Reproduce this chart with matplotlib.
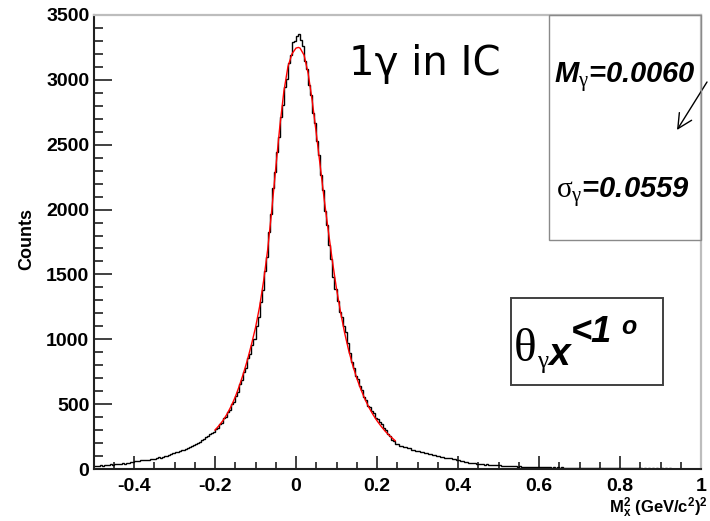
import numpy as np
import matplotlib
matplotlib.use("Agg")
import matplotlib.pyplot as plt
from matplotlib.ticker import MultipleLocator, FuncFormatter
from matplotlib.patches import Rectangle

plt.rcParams["mathtext.fontset"] = "custom"
plt.rcParams["mathtext.rm"] = "Liberation Serif"
plt.rcParams["mathtext.it"] = "Liberation Sans:italic:bold"
plt.rcParams["mathtext.bf"] = "Liberation Sans:bold"

# Missing-mass-squared histogram: 300 bins from -0.5 to 1.0 (GeV/c^2)^2
bin_lo, bin_hi = -0.5, 1.0
counts = [
    21, 25, 22, 28, 26, 29, 31, 30, 35, 32, 37, 36, 40, 38, 44, 42, 47, 45, 51, 55,
    58, 63, 61, 66, 69, 67, 73, 71, 77, 80, 78, 85, 89, 87, 94, 99, 103, 108, 116, 121,
    131, 128, 140, 146, 144, 157, 162, 170, 176, 186, 192, 203, 209, 222, 230, 245, 252, 268, 276, 288,
    306, 318, 347, 358, 390, 401, 437, 455, 498, 520, 566, 594, 652, 684, 748, 782, 852, 890, 958, 1002,
    1102, 1171, 1291, 1378, 1524, 1638, 1826, 1965, 2168, 2287, 2446, 2556, 2717, 2806, 2948, 3006, 3128, 3189, 3290, 3302,
    3338, 3351, 3309, 3262, 3148, 3082, 2958, 2884, 2745, 2664, 2526, 2423, 2268, 2152, 1986, 1882, 1728, 1622, 1478, 1391,
    1296, 1208, 1168, 1102, 1058, 968, 898, 822, 782, 718, 697, 638, 606, 553, 531, 488, 476, 444, 431, 395,
    388, 361, 349, 316, 299, 266, 252, 224, 214, 195, 193, 180, 181, 170, 171, 159, 160, 149, 150, 139,
    141, 132, 131, 123, 121, 113, 113, 106, 105, 98, 99, 93, 93, 86, 87, 81, 82, 74, 75, 67,
    66, 58, 60, 52, 55, 47, 49, 43, 45, 39, 42, 36, 38, 33, 35, 30, 33, 28, 30, 27,
    28, 25, 26, 23, 24, 22, 23, 20, 21, 19, 20, 17, 19, 16, 18, 15, 17, 14, 16, 14,
    13, 15, 12, 14, 12, 13, 11, 13, 11, 12, 10, 12, 10, 11, 9, 11, 9, 10, 9, 10,
    8, 10, 8, 9, 7, 9, 7, 8, 7, 8, 6, 8, 6, 7, 6, 7, 5, 7, 5, 6,
    6, 5, 6, 4, 6, 4, 5, 4, 5, 4, 5, 3, 5, 3, 4, 3, 4, 3, 4, 3,
    4, 3, 4, 2, 4, 2, 3, 2, 3, 2, 3, 2, 3, 2, 3, 2, 3, 2, 3, 2,
]

# Fitted peak curve
fit_x = [-0.20, -0.19, -0.18, -0.17, -0.16, -0.15, -0.14, -0.13, -0.12, -0.11,
         -0.10, -0.09, -0.08, -0.07, -0.06, -0.05, -0.04, -0.03, -0.02, -0.01,
         0.00, 0.006, 0.01, 0.02, 0.03, 0.04, 0.05, 0.06, 0.07, 0.08,
         0.09, 0.10, 0.11, 0.12, 0.13, 0.14, 0.15, 0.16, 0.17, 0.18,
         0.19, 0.20, 0.21, 0.22, 0.23, 0.24, 0.245]
fit_y = [300, 335, 375, 425, 485, 555, 640, 735, 840, 960,
         1090, 1250, 1450, 1690, 1990, 2320, 2640, 2910, 3100, 3200,
         3245, 3250, 3245, 3190, 3050, 2840, 2590, 2330, 2070, 1830,
         1600, 1390, 1210, 1050, 915, 800, 700, 615, 540, 475,
         420, 372, 330, 292, 260, 232, 218]

mass_label = r"$\mathit{M}_{\mathrm{\gamma}}$=0.0060"
sigma_label = r"$\mathrm{\sigma}_{\mathrm{\gamma}}$=0.0559"

W, H = 710, 521
fig = plt.figure(figsize=(W / 100, H / 100), dpi=100)
ax = fig.add_axes([93.5 / W, 1 - 469 / H, 607.5 / W, 454 / H])

edges = np.linspace(bin_lo, bin_hi, len(counts) + 1)
ax.stairs(counts, edges, color="black", lw=1.0, baseline=None, zorder=2)
ax.plot(fit_x, fit_y, color="red", lw=1.0, zorder=3)

ax.set_xlim(bin_lo, bin_hi)
ax.set_ylim(0, 3500)

# Axis frame: dark left/bottom, light grey top/right
for side in ("left", "bottom"):
    ax.spines[side].set_color("#202020")
    ax.spines[side].set_linewidth(1.5)
for side in ("top", "right"):
    ax.spines[side].set_color("#bdbdbd")
    ax.spines[side].set_linewidth(1.6)

ax.xaxis.set_major_locator(MultipleLocator(0.2))
ax.xaxis.set_minor_locator(MultipleLocator(0.05))
ax.yaxis.set_major_locator(MultipleLocator(500))
ax.yaxis.set_minor_locator(MultipleLocator(100))
ax.xaxis.set_major_formatter(FuncFormatter(lambda v, p: f"{round(v, 6) + 0.0:g}"))
ax.yaxis.set_major_formatter(FuncFormatter(lambda v, p: f"{int(round(v))}"))

ax.tick_params(axis="both", which="both", direction="in", top=False, right=False,
               color="#202020", width=1.2)
ax.tick_params(axis="y", which="major", length=13, pad=3)
ax.tick_params(axis="y", which="minor", length=6.5)
ax.tick_params(axis="x", which="major", length=9.4, pad=6.5)
ax.tick_params(axis="x", which="minor", length=5)
for lab in ax.get_xticklabels() + ax.get_yticklabels():
    lab.set_fontfamily("Liberation Sans")
    lab.set_fontweight("bold")
    lab.set_fontsize(14)

def put(txt, x, y, **kw):
    ax.annotate(txt, xy=(x, H - y), xycoords="figure pixels", annotation_clip=False, **kw)

put("Counts", 27, 239, rotation=90, ha="center", va="center",
    family="Liberation Sans", fontweight="bold", fontsize=13)
put(r"M$_{\mathbf{x}}^{\mathbf{2}}$ (GeV/c$^{\mathbf{2}}$)$^{\mathbf{2}}$", 708, 513,
    ha="right", va="baseline", family="Liberation Sans", fontweight="bold", fontsize=12)

put("1γ in IC", 349, 75, ha="left", va="baseline", family="DejaVu Sans", fontsize=29)

# Fit-result box in the upper right corner
ax.add_patch(Rectangle(((549 - 93.5) / 607.5, (469 - 240) / 454),
                       1 - (549 - 93.5) / 607.5, 1 - (469 - 240) / 454,
                       transform=ax.transAxes, fill=False, edgecolor="#8a8a8a",
                       lw=1.0, zorder=4, clip_on=False))
put(mass_label, 554, 83, ha="left", va="baseline", family="Liberation Sans",
    fontweight="bold", fontstyle="italic", fontsize=21)
put(sigma_label, 556, 198, ha="left", va="baseline", family="Liberation Sans",
    fontweight="bold", fontstyle="italic", fontsize=21)
ax.annotate("", xy=(677, H - 130), xytext=(707, H - 82), xycoords="figure pixels",
            textcoords="figure pixels", annotation_clip=False,
            arrowprops=dict(arrowstyle="->", color="black", lw=1.0,
                            mutation_scale=26, shrinkA=0, shrinkB=0))

# Angular cut box
ax.add_patch(Rectangle(((511 - 93.5) / 607.5, (469 - 385) / 454),
                       (663 - 511) / 607.5, (385 - 298) / 454,
                       transform=ax.transAxes, fill=False, edgecolor="#404040",
                       lw=1.4, zorder=4))
put("θ", 514, 361, ha="left", va="baseline", family="Liberation Serif", fontsize=34)
put("γ", 537, 368, ha="left", va="baseline", family="Liberation Serif", fontsize=18)
put("x", 549, 365, ha="left", va="baseline", family="Liberation Sans",
    fontweight="bold", fontstyle="italic", fontsize=28)
put("<1", 571, 342, ha="left", va="baseline", family="Liberation Sans",
    fontweight="bold", fontstyle="italic", fontsize=26)
put("o", 621, 334, ha="left", va="baseline", family="Liberation Sans",
    fontweight="bold", fontstyle="italic", fontsize=18)

fig.savefig("out.png", dpi=100)
